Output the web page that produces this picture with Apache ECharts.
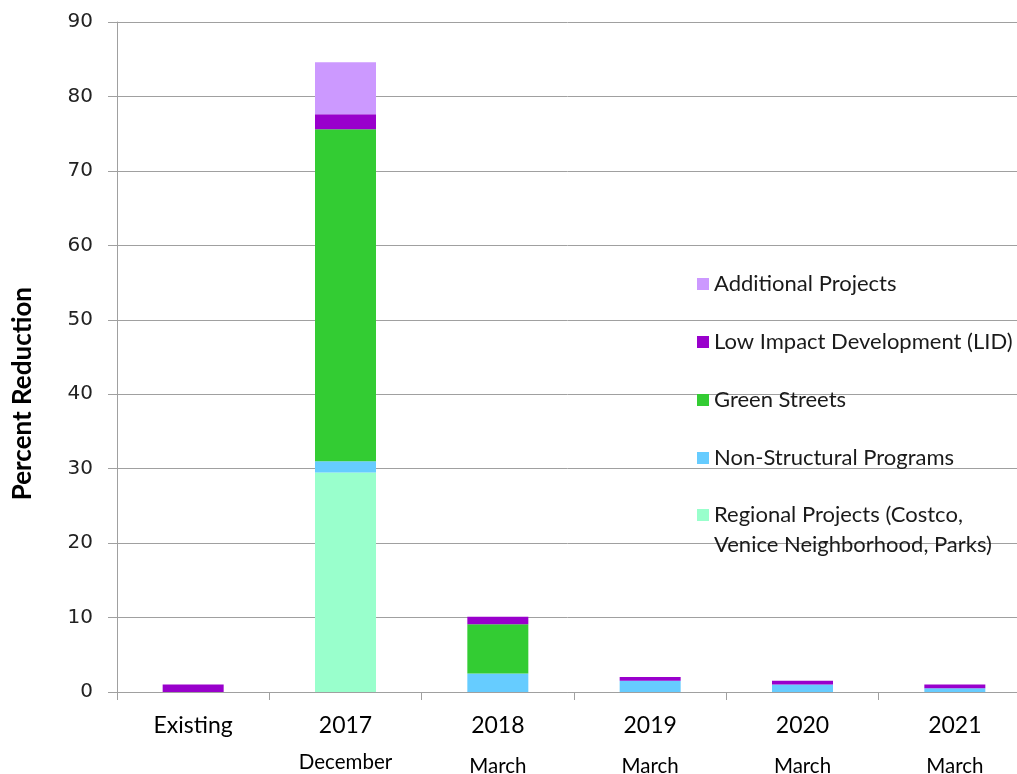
<!DOCTYPE html>
<html><head><meta charset="utf-8">
<script src="https://cdn.jsdelivr.net/npm/echarts@6/dist/echarts.min.js"></script>
<style>html,body{margin:0;padding:0;background:#fff}#c{width:1017px;height:774px}</style>
</head><body><div id="c"></div>
<script>
const categories = ['Existing', '2017', '2018', '2019', '2020', '2021'];
const subLabels = ['', 'December', 'March', 'March', 'March', 'March'];
const regional = [0, 29.5, 0, 0, 0, 0];
const nonStructural = [0, 1.5, 2.5, 1.5, 1.0, 0.5];
const greenStreets = [0, 44.6, 6.6, 0, 0, 0];
const lid = [1.0, 2.0, 1.0, 0.5, 0.5, 0.5];
const additional = [0, 7.0, 0, 0, 0, 0];
const yTicks = [0, 10, 20, 30, 40, 50, 60, 70, 80, 90];

const names = {
  reg: 'Regional Projects (Costco,\nVenice Neighborhood, Parks)',
  ns: 'Non-Structural Programs',
  gs: 'Green Streets',
  lid: 'Low Impact Development (LID)',
  add: 'Additional Projects'
};
const colors = {reg:'#99FFCC', ns:'#66CCFF', gs:'#33CC33', lid:'#9900CC', add:'#CC99FF'};

function ser(key, data) {
  return {name: names[key], type: 'bar', stack: 'total', barWidth: 61, data: data,
    itemStyle: {color: colors[key]}, emphasis: {disabled: true}};
}

const chart = echarts.init(document.getElementById('c'), null, {renderer: 'canvas'});
const font = 'Lato, "Open Sans", sans-serif';
chart.setOption({
  animation: false,
  grid: {left: 117, right: -14, top: 22, bottom: 82, containLabel: false, outerBoundsMode: 'none'},
  legend: [{
    orient: 'vertical', left: 692, top: 267, itemWidth: 12, itemHeight: 12, itemGap: 34,
    icon: 'rect',
    textStyle: {fontFamily: font, fontSize: 22, color: '#1a1a1a', lineHeight: 24},
    data: [names.add, names.lid, names.gs, names.ns]
  }, {
    orient: 'vertical', left: 692, top: 479, itemWidth: 12, itemHeight: 12,
    icon: 'rect',
    formatter: function (n) {
      const parts = n.split('\n');
      return '{e| }\n{a|' + parts[0] + '}\n{a|' + parts[1] + '}';
    },
    textStyle: {fontFamily: font, fontSize: 22, color: '#1a1a1a',
      rich: {
        e: {fontSize: 2, lineHeight: 30},
        a: {fontFamily: font, fontSize: 22, color: '#1a1a1a', lineHeight: 30}
      }},
    data: [names.reg]
  }],
  xAxis: {
    type: 'category', data: categories,
    axisLine: {show: true, lineStyle: {color: '#a0a0a0', width: 1}},
    axisTick: {show: true, length: 8, lineStyle: {color: '#a0a0a0'}},
    axisLabel: {
      margin: 21,
      formatter: function (v, i) {
        const s = subLabels[i];
        if (!s) return '{a|' + v + '}';
        return '{a|' + v + '}\n' + (s === 'December' ? '{b|' + s + '}' : '{c|' + s + '}');
      },
      rich: {
        a: {fontFamily: font, fontSize: 23, color: '#000', lineHeight: 26},
        b: {fontFamily: font, fontSize: 20.5, color: '#000', lineHeight: 46},
        c: {fontFamily: font, fontSize: 20.5, color: '#000', lineHeight: 54}
      }
    }
  },
  yAxis: {
    type: 'value', min: 0, max: 90, interval: 10,
    axisLine: {show: true, lineStyle: {color: '#a0a0a0', width: 1}},
    axisTick: {show: true, length: 9, lineStyle: {color: '#a0a0a0'}},
    axisLabel: {margin: 24, fontFamily: '"DejaVu Sans", Verdana, sans-serif', fontSize: 20, color: '#222',
      formatter: function (v) { return yTicks.indexOf(v) >= 0 ? String(v) : ''; }},
    splitLine: {show: true, lineStyle: {color: '#a0a0a0', width: 1}}
  },
  graphic: [{
    type: 'text', left: 10, top: 287, rotation: Math.PI / 2,
    style: {text: 'Percent Reduction', font: 'bold 26px Lato, "Open Sans", sans-serif', fill: '#000'}
  }],
  series: [
    ser('reg', regional),
    ser('ns', nonStructural),
    ser('gs', greenStreets),
    ser('lid', lid),
    ser('add', additional)
  ]
});
</script></body></html>
